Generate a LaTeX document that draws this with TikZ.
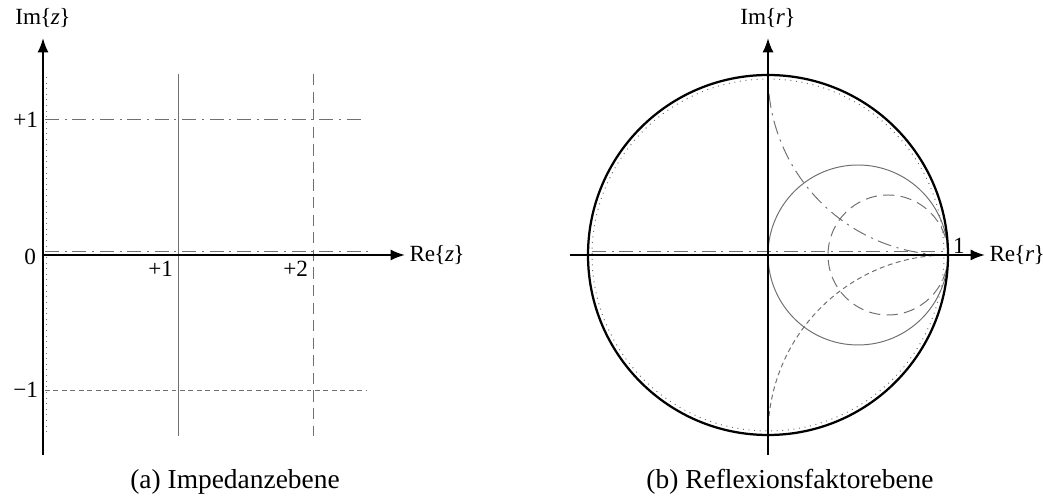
\documentclass[tikz,border=0pt]{standalone}
\usepackage{fontspec}
\setmainfont{Liberation Serif}
\usetikzlibrary{arrows.meta, positioning}
\definecolor{smgray}{HTML}{707070}
\definecolor{smdark}{HTML}{000000}
\newcommand{\brl}{\kern-0.6pt\{\kern-0.4pt}
\newcommand{\brr}{\kern-0.4pt\}}
\tikzset{
  axis/.style={-{Latex[length=3.6mm, width=2.8mm]}, line width=1.5pt, smdark},
  rim/.style={line width=1.6pt, smdark},
  rzero/.style={dash pattern=on 0.7pt off 3.3pt, line width=0.7pt, smgray},
  rone/.style={line width=0.7pt, smgray},
  rtwo/.style={dash pattern=on 8pt off 4.5pt, line width=0.7pt, smgray},
  xpos/.style={dash pattern=on 10pt off 4pt on 1.5pt off 4pt, line width=0.7pt, smgray},
  xneg/.style={dash pattern=on 3.5pt off 2.5pt, line width=0.7pt, smgray},
  lbl/.style={font=\fontsize{16.5}{20}\selectfont, inner sep=0.5pt},
  captext/.style={font=\fontsize{19.5}{23}\selectfont, inner sep=1pt},
}

\begin{document}
\begin{tikzpicture}[x=0.025cm, y=0.025cm]
  \useasboundingbox (0,0) rectangle (1043,497);

  % (a) impedance plane
  \begin{scope}[shift={(43,242)}]
    \coordinate (oa) at (0,0);
    \coordinate (rea) at (362,0);
    \coordinate (ima) at (0,217);
    \coordinate (imbota) at (0,-200);
    \draw[rzero] (3,178) -- (3,-177);
    \draw[rone] (135,181) -- (135,-181);
    \draw[rtwo] (270,181) -- (270,-181);
    \draw[xpos] (2,135) -- (322,135);
    \draw[xpos] (2,4) -- (325,4);
    \draw[xneg] (2,-135) -- (324,-135);
    \draw[axis] (oa) -- (rea);
    \draw[axis] (imbota) -- (ima);
    \node[lbl] (imz) at (0,237) {Im\brl\textit{z}\brr};
    \node[lbl, right=2.5pt of rea] (rez) {Re\brl\textit{z}\brr};
    \node[lbl, anchor=east] (nulla) at (-6,-2) {0};
    \node[lbl, anchor=east] (ponea) at (-4,135) {+1};
    \node[lbl, anchor=east] (monea) at (-4,-135) {−1};
    \node[lbl, anchor=north east] (rone) at (131,-5) {+1};
    \node[lbl, anchor=north east] (rtwo) at (266,-5) {+2};
  \end{scope}
  \node[captext] (capa) at (235,15) {(a) Impedanzebene};

  % (b) reflection factor plane
  \begin{scope}[shift={(768,242)}]
    \coordinate (ob) at (0,0);
    \coordinate (reb) at (217,0);
    \coordinate (relb) at (-198,0);
    \coordinate (imb) at (0,217);
    \coordinate (imbotb) at (0,-200);
    \draw[rzero] (ob) circle[radius=176];
    \draw[xpos] (-176,4) -- (178,4);
    \draw[rone] (90,0) circle[radius=90];
    \draw[rtwo] (120,0) circle[radius=60];
    \draw[xpos] (180,180) ++(186:180) arc[start angle=186, end angle=266, radius=180];
    \draw[xneg] (180,-180) ++(174:180) arc[start angle=174, end angle=94, radius=180];
    \draw[rim] (ob) circle[radius=180];
    \draw[axis] (relb) -- (reb);
    \draw[axis] (imbotb) -- (imb);
    \node[lbl] (imr) at (0,237) {Im\brl\textit{r}\brr};
    \node[lbl, right=2.5pt of reb] (rer) {Re\brl\textit{r}\brr};
    \node[lbl, anchor=south west] (einsb) at (184,1) {1};
  \end{scope}
  \node[captext] (capb) at (790,15) {(b) Reflexionsfaktorebene};
\end{tikzpicture}
\end{document}
